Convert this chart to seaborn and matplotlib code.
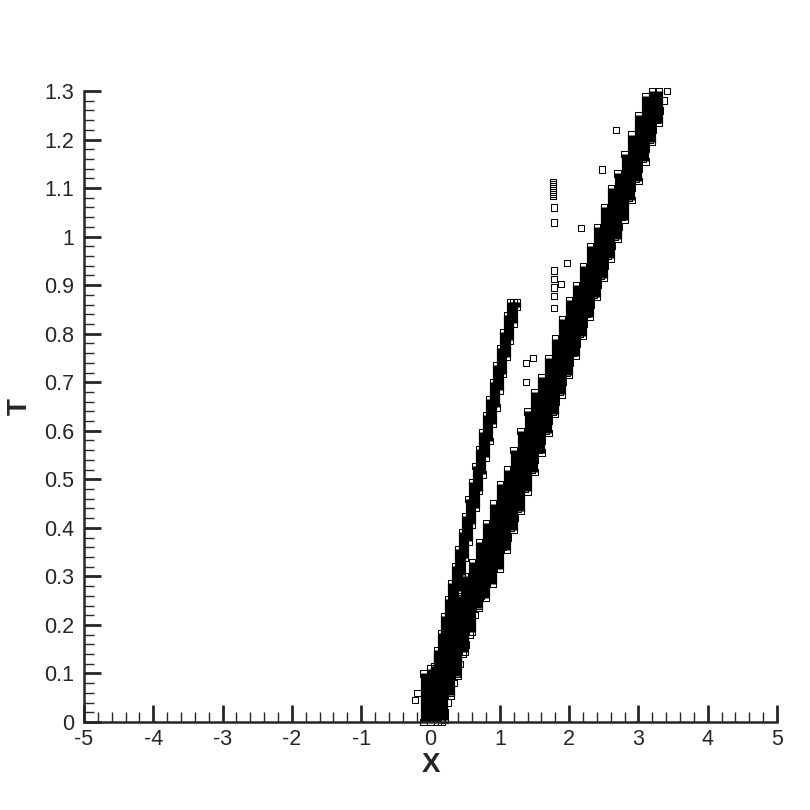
import numpy as np
import pandas as pd
import matplotlib
matplotlib.use("Agg")
import matplotlib.pyplot as plt
from matplotlib.ticker import MultipleLocator, FuncFormatter
import seaborn as sns

sns.set_style("ticks")
plt.rcParams['font.family'] = ['Liberation Sans', 'DejaVu Sans']

# main shock band, one column per x cell (0.1 wide): first and last T it is marked
main_x = [-0.1, 0.0, 0.1, 0.2, 0.3, 0.4, 0.5, 0.6, 0.7, 0.8, 0.9, 1.0, 1.1, 1.2,
          1.3, 1.4, 1.5, 1.6, 1.7, 1.8, 1.9, 2.0, 2.1, 2.2, 2.3, 2.4, 2.5, 2.6,
          2.7, 2.8, 2.9, 3.0, 3.1, 3.2, 3.3]
main_t0 = [0.00, 0.00, 0.00, 0.005, 0.055, 0.095, 0.145, 0.185, 0.235, 0.255, 0.285, 0.315,
           0.355, 0.395, 0.435, 0.475, 0.515, 0.555, 0.595, 0.635, 0.675, 0.715, 0.755,
           0.795, 0.835, 0.875, 0.915, 0.955, 0.995, 1.035, 1.075, 1.115, 1.155, 1.195, 1.235]
main_t1 = [0.10, 0.11, 0.14, 0.18, 0.22, 0.26, 0.30, 0.33, 0.37, 0.41, 0.45, 0.49, 0.52, 0.56,
           0.60, 0.64, 0.68, 0.71, 0.75, 0.79, 0.83, 0.87, 0.90, 0.94, 0.98, 1.02, 1.06, 1.10,
           1.13, 1.17, 1.21, 1.25, 1.29, 1.30, 1.30]

# second (steeper) branch, finer cells (0.05 apart)
branch_x = [0.00, 0.05, 0.10, 0.15, 0.20, 0.25, 0.30, 0.35, 0.40, 0.45, 0.50,
            0.55, 0.60, 0.65, 0.70, 0.75, 0.80, 0.85, 0.90, 0.95, 1.00,
            1.05, 1.10, 1.15, 1.20, 1.25]
branch_t0 = [0.000, 0.028, 0.062, 0.097, 0.131, 0.166, 0.200, 0.235, 0.269, 0.303, 0.338,
             0.372, 0.407, 0.441, 0.476, 0.510, 0.545, 0.579, 0.614, 0.648, 0.683,
             0.717, 0.752, 0.786, 0.821, 0.855]
branch_t1 = [0.080, 0.115, 0.149, 0.184, 0.218, 0.253, 0.287, 0.322, 0.356, 0.391, 0.425,
             0.460, 0.494, 0.528, 0.563, 0.597, 0.632, 0.666, 0.701, 0.735, 0.770,
             0.804, 0.839, 0.865, 0.865, 0.865]

# leading edge of the main band (open squares)
edge_t = [0.00, 0.02, 0.04, 0.06, 0.08, 0.10, 0.12, 0.14, 0.16, 0.18, 0.20,
          0.22, 0.24, 0.26, 0.28, 0.30, 0.32, 0.34, 0.36, 0.38, 0.40, 0.42,
          0.44, 0.46, 0.48, 0.50, 0.52, 0.54, 0.56, 0.58, 0.60, 0.62, 0.64,
          0.66, 0.68, 0.70, 0.72, 0.74, 0.76, 0.78, 0.80, 0.82, 0.84, 0.86,
          0.88, 0.90, 0.92, 0.94, 0.96, 0.98, 1.00, 1.02, 1.04, 1.06, 1.08,
          1.10, 1.12, 1.14, 1.16, 1.18, 1.20, 1.22, 1.24, 1.26, 1.28, 1.30]
edge_x = [0.16, 0.20, 0.25, 0.29, 0.34, 0.38, 0.42, 0.47, 0.51, 0.56, 0.60,
          0.64, 0.69, 0.73, 0.78, 0.82, 0.90, 0.98, 1.05, 1.11, 1.16, 1.21,
          1.26, 1.31, 1.36, 1.41, 1.46, 1.51, 1.56, 1.61, 1.66, 1.71, 1.76,
          1.81, 1.86, 1.91, 1.96, 2.01, 2.06, 2.11, 2.16, 2.21, 2.26, 2.31,
          2.36, 2.41, 2.46, 2.51, 2.56, 2.61, 2.66, 2.71, 2.76, 2.81, 2.86,
          2.91, 2.96, 3.01, 3.06, 3.11, 3.16, 3.21, 3.26, 3.31, 3.36, 3.41]

# scattered points, incl. the few left of the origin
stray_x = [2.68, 2.47, 1.77, 1.77, 1.77, 1.77, 1.77, 1.77, 1.77, 1.77, 1.78, 1.78, 2.17,
           1.97, 1.78, 1.78, 1.88, 1.78, 1.78, 1.78, 1.48, 1.38, 1.38, -0.22, -0.19]
stray_t = [1.22, 1.138, 1.112, 1.108, 1.104, 1.100, 1.096, 1.092, 1.088, 1.084, 1.06, 1.029, 1.018,
           0.946, 0.93, 0.913, 0.903, 0.895, 0.878, 0.853, 0.75, 0.74, 0.70, 0.045, 0.06]

fig = plt.figure(figsize=(8.1, 8.1), dpi=100)
ax = fig.add_axes([0.1037, 0.1086, 0.8556, 0.7791])

sq = dict(marker='s', s=21, facecolor='none', edgecolor='black',
          linewidth=0.75, clip_on=False, legend=False, ax=ax)

for xs, t0, t1 in [(main_x, main_t0, main_t1), (branch_x, branch_t0, branch_t1)]:
    ax.vlines(xs, t0, t1, colors='black', linewidth=5.2, clip_on=False)
    ends = pd.DataFrame({'X': xs + xs, 'T': t0 + t1})
    sns.scatterplot(data=ends, x='X', y='T', **sq)

sns.scatterplot(x=edge_x, y=edge_t, **sq)
sns.scatterplot(x=stray_x, y=stray_t, **sq)

ax.set_xlim(-5, 5)
ax.set_ylim(0, 1.3)
ax.xaxis.set_major_locator(MultipleLocator(1))
ax.xaxis.set_minor_locator(MultipleLocator(0.2))
ax.yaxis.set_major_locator(MultipleLocator(0.1))
ax.yaxis.set_minor_locator(MultipleLocator(0.02))
fmt = FuncFormatter(lambda v, p: f"{round(v, 6):g}")
ax.xaxis.set_major_formatter(fmt)
ax.yaxis.set_major_formatter(fmt)
ax.tick_params(which='major', direction='in', length=12, width=2, labelsize=15.5)
ax.tick_params(which='minor', direction='in', length=7, width=1)
ax.tick_params(axis='x', which='major', pad=5)
ax.tick_params(axis='y', which='major', pad=7)
sns.despine(ax=ax)
for s in ['left', 'bottom']:
    ax.spines[s].set_linewidth(1.8)

ax.set_xlabel('X', fontsize=20, fontweight='bold', va='center')
ax.set_ylabel('T', fontsize=20, fontweight='bold', va='center')
ax.xaxis.set_label_coords(0.5, -0.068)
ax.yaxis.set_label_coords(-0.092, 0.5)

fig.savefig('out.png', dpi=100)
